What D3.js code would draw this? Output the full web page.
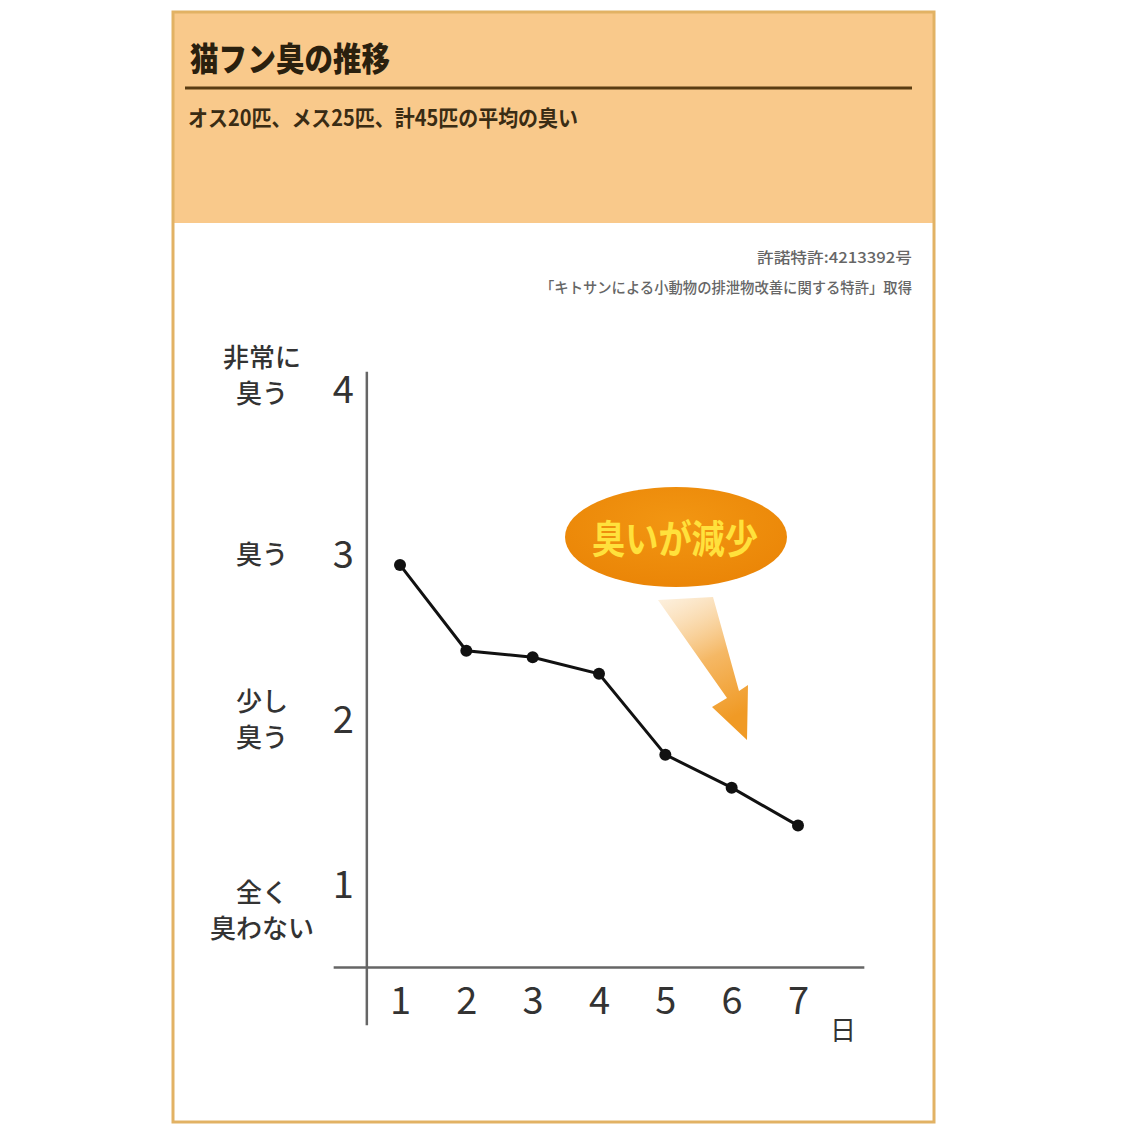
<!DOCTYPE html>
<html><head><meta charset="utf-8">
<script src="https://cdn.jsdelivr.net/npm/d3@7"></script>
<style>
html,body{margin:0;padding:0;background:#fff;}
svg{display:block;}
text{font-family:"Noto Sans CJK JP","Noto Sans",sans-serif;}
</style></head>
<body>
<svg id="c" width="1134" height="1134"></svg>
<script>
const days = [1,2,3,4,5,6,7];
const odor = [2.94,2.42,2.38,2.28,1.79,1.59,1.36];
const yTicks = [1,2,3,4];
const yLabels = [["全く","臭わない"],["少し","臭う"],["臭う"],["非常に","臭う"]];
const title = "猫フン臭の推移";
const subtitle = "オス20匹、メス25匹、計45匹の平均の臭い";
const note1 = "許諾特許:4213392号";
const note2 = "「キトサンによる小動物の排泄物改善に関する特許」取得";
const callout = "臭いが減少";
const unit = "日";

const svg = d3.select("#c");
const defs = svg.append("defs");
const g1 = defs.append("linearGradient").attr("id","arrowGrad")
  .attr("x1","0").attr("y1","0").attr("x2","0.3").attr("y2","1");
g1.append("stop").attr("offset","0").attr("stop-color","#fbe3c0").attr("stop-opacity",0.5);
g1.append("stop").attr("offset","0.55").attr("stop-color","#f5b865");
g1.append("stop").attr("offset","1").attr("stop-color","#f09a25");
const g2 = defs.append("radialGradient").attr("id","ellGrad").attr("cx","0.5").attr("cy","0.35").attr("r","0.7");
g2.append("stop").attr("offset","0").attr("stop-color","#f29612");
g2.append("stop").attr("offset","1").attr("stop-color","#ea8406");

// frame & header
svg.append("rect").attr("x",173).attr("y",12).attr("width",761).attr("height",211).attr("fill","#f9c98b");
svg.append("rect").attr("x",173).attr("y",12).attr("width",761).attr("height",1110)
  .attr("fill","none").attr("stroke","#e2b264").attr("stroke-width",3);
svg.append("text").attr("x",190).attr("y",71).attr("font-size",33).attr("font-weight",900)
  .attr("fill","#2a200e").attr("textLength",200).attr("lengthAdjust","spacingAndGlyphs").text(title);
svg.append("line").attr("x1",185).attr("x2",912).attr("y1",88).attr("y2",88)
  .attr("stroke","#5a3c12").attr("stroke-width",3);
svg.append("text").attr("x",188).attr("y",126).attr("font-size",22).attr("font-weight",700)
  .attr("fill","#3a2c14").attr("textLength",390).attr("lengthAdjust","spacingAndGlyphs").text(subtitle);
svg.append("text").attr("x",912).attr("y",263).attr("text-anchor","end").attr("font-size",15)
  .attr("font-weight",500).attr("fill","#666").attr("textLength",155).attr("lengthAdjust","spacingAndGlyphs").text(note1);
svg.append("text").attr("x",912).attr("y",293).attr("text-anchor","end").attr("font-size",15)
  .attr("font-weight",500).attr("fill","#666").attr("textLength",372).attr("lengthAdjust","spacingAndGlyphs").text(note2);

// scales
const x = d3.scaleLinear().domain([1,7]).range([400,798]);
const y = d3.scaleLinear().domain([1,4]).range([885,390]);

// axis lines
svg.append("line").attr("x1",x(0)).attr("x2",x(8)).attr("y1",y(0.5)).attr("y2",y(0.5))
  .attr("stroke","#666").attr("stroke-width",2.5);
svg.append("line").attr("x1",x(0.5)).attr("x2",x(0.5)).attr("y1",y(4.11)).attr("y2",y(0.15))
  .attr("stroke","#666").attr("stroke-width",2.5);

// y axis tick numbers
const ya = svg.append("g").attr("transform",`translate(${x(0.5)},0)`)
  .call(d3.axisLeft(y).tickValues(yTicks).tickSize(0).tickPadding(13).tickFormat(d3.format("d")));
ya.select(".domain").remove();
ya.selectAll("text").attr("font-size",38).attr("font-weight",400).attr("fill","#333")
  .style("font-family",'"Noto Sans CJK JP",sans-serif');

// x axis tick numbers
const xa = svg.append("g").attr("transform",`translate(0,${y(0.5)})`)
  .call(d3.axisBottom(x).tickValues(days).tickSize(0).tickPadding(20).tickFormat(d3.format("d")));
xa.select(".domain").remove();
xa.selectAll("text").attr("font-size",38).attr("font-weight",400).attr("fill","#333")
  .style("font-family",'"Noto Sans CJK JP",sans-serif');
svg.append("text").attr("x",x(7.68)).attr("y",y(0.5)+72).attr("text-anchor","middle")
  .attr("font-size",26).attr("fill","#333").text(unit);

// y category labels
yTicks.forEach((t,i)=>{
  const lines = yLabels[i];
  const lh = 36;
  const startY = y(t) - (lines.length===1 ? 0 : (i===0 ? -8 : lh/2+ (i===3? 14:0)));
  const tx = svg.append("text").attr("x",262).attr("text-anchor","middle").attr("font-size",26)
    .attr("font-weight",500).attr("fill","#333");
  lines.forEach((l,j)=>{
    tx.append("tspan").attr("x",262).attr("y",startY + j*lh + 9).text(l);
  });
});

// callout
svg.append("path").attr("d","M658,600 L713,597 L739,691 L748,685 L747,740 L712,707 L727,698 Z")
  .attr("fill","url(#arrowGrad)");
svg.append("ellipse").attr("cx",676).attr("cy",537).attr("rx",111).attr("ry",50).attr("fill","url(#ellGrad)");
svg.append("text").attr("x",675).attr("y",553).attr("text-anchor","middle").attr("font-size",39)
  .attr("font-weight",700).attr("fill","#ffe13c").attr("textLength",166).attr("lengthAdjust","spacingAndGlyphs").text(callout);

// data line
const data = days.map((d,i)=>({d, v: odor[i]}));
svg.append("path").datum(data)
  .attr("d", d3.line().x(p=>x(p.d)).y(p=>y(p.v)))
  .attr("fill","none").attr("stroke","#111").attr("stroke-width",3);
svg.selectAll("circle.pt").data(data).enter().append("circle").attr("class","pt")
  .attr("cx",p=>x(p.d)).attr("cy",p=>y(p.v)).attr("r",6).attr("fill","#111");
</script>
</body></html>
